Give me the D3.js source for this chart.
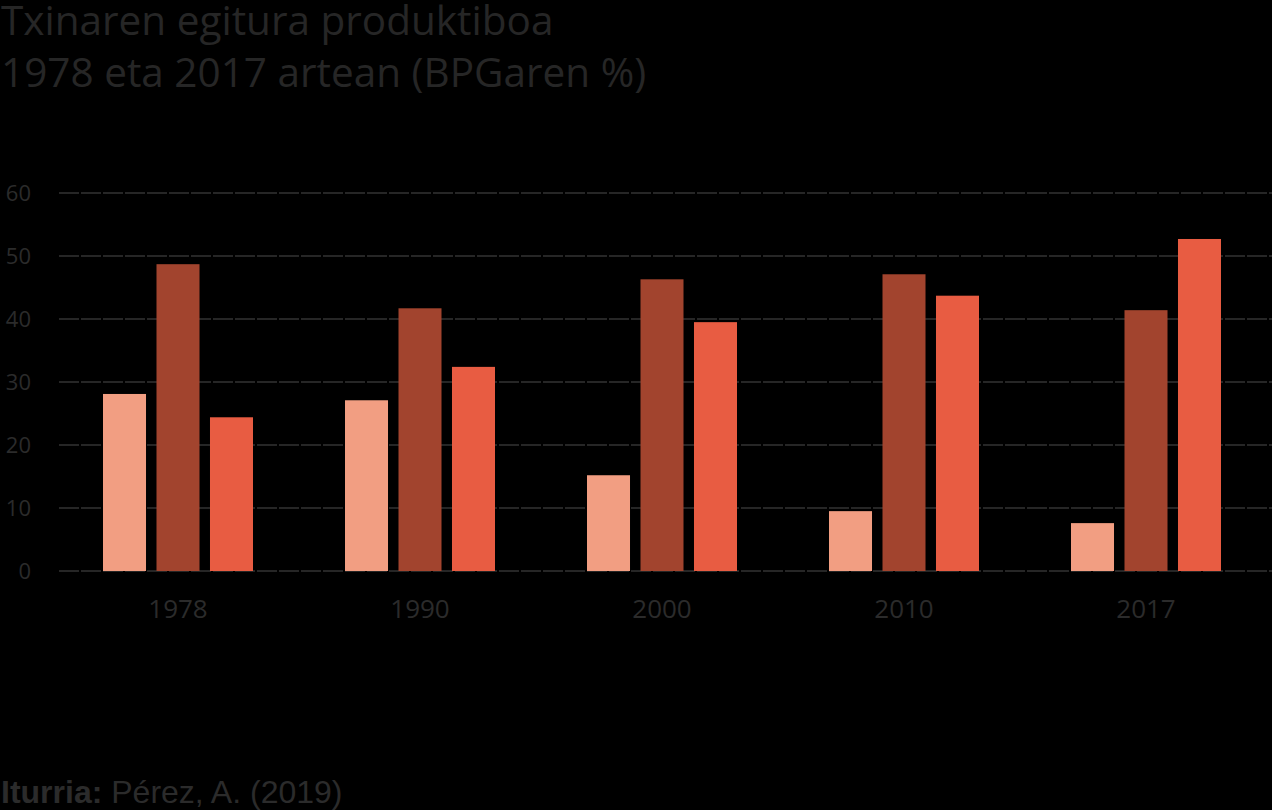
<!DOCTYPE html>
<html>
<head>
<meta charset="utf-8">
<script src="https://cdn.jsdelivr.net/npm/d3@7"></script>
<style>
  body { margin: 0; background: #000; }
  svg { display: block; }
  .title { font-family: "Open Sans", sans-serif; fill: #262626; }
  .tick-label { font-family: "Open Sans", sans-serif; fill: #2b2b2b; }
  .source { font-family: "Liberation Sans", Arial, sans-serif; fill: #2b2b2b; }
</style>
</head>
<body>
<div id="chart"></div>
<script>
// data
const years = ["1978", "1990", "2000", "2010", "2017"];
const series = ["s1", "s2", "s3"];
const s1 = [28.1, 27.1, 15.2, 9.5, 7.6];
const s2 = [48.7, 41.7, 46.3, 47.1, 41.4];
const s3 = [24.4, 32.4, 39.5, 43.7, 52.7];
const yTicks = [0, 10, 20, 30, 40, 50, 60];
const colors = ["#f29e82", "#a2442e", "#e85c42"];

const width = 1272, height = 810;

const svg = d3.select("#chart").append("svg")
    .attr("width", width)
    .attr("height", height);

// title
svg.append("text").attr("class", "title")
    .attr("x", 1).attr("y", 35)
    .style("font-size", "40.5px")
    .text("Txinaren egitura produktiboa");
svg.append("text").attr("class", "title")
    .attr("x", 1).attr("y", 87)
    .style("font-size", "40.5px")
    .text("1978 eta 2017 artean (BPGaren %)");

let y = d3.scaleLinear().domain([0, 60]).range([571, 193]);

let x0 = d3.scaleBand().domain(years).range([57, 1267]);
let x1 = d3.scaleBand().domain(series).range([-75, 75]).paddingInner(0.196);

// gridlines
svg.append("g").selectAll("line")
    .data(yTicks)
    .enter()
    .append("line")
    .attr("x1", 59).attr("x2", width)
    .attr("y1", d => y(d)).attr("y2", d => y(d))
    .attr("stroke", "#333")
    .attr("stroke-width", 1.5)
    .attr("stroke-dasharray", "20,2");

svg.append("g").selectAll("text")
    .data(yTicks)
    .enter()
    .append("text")
    .attr("class", "tick-label")
    .attr("x", 31)
    .attr("y", d => y(d))
    .attr("dy", "0.35em")
    .attr("text-anchor", "end")
    .style("font-size", "22px")
    .text(d => d);

// bars
let rows = years.map((yr, i) => ({year: yr, values: [s1[i], s2[i], s3[i]]}));

let groups = svg.append("g").selectAll("g")
    .data(rows)
    .enter()
    .append("g")
    .attr("transform", d => "translate(" + (x0(d.year) + x0.bandwidth() / 2) + ",0)");

groups.selectAll("rect")
    .data(d => d.values.map((v, j) => ({key: series[j], value: v, color: colors[j]})))
    .enter()
    .append("rect")
    .attr("x", d => x1(d.key))
    .attr("width", x1.bandwidth())
    .attr("y", d => y(d.value))
    .attr("height", d => y(0) - y(d.value))
    .attr("fill", d => d.color);

// year labels
svg.append("g").selectAll("text")
    .data(years)
    .enter()
    .append("text")
    .attr("class", "tick-label")
    .attr("x", d => x0(d) + x0.bandwidth() / 2)
    .attr("y", 618)
    .attr("text-anchor", "middle")
    .style("font-size", "26px")
    .text(d => d);

// source
let src = svg.append("text").attr("class", "source")
    .attr("x", 1).attr("y", 803)
    .style("font-size", "32px");
src.append("tspan").style("font-weight", "bold").text("Iturria:");
src.append("tspan").text(" Pérez, A. (2019)");
</script>
</body>
</html>
